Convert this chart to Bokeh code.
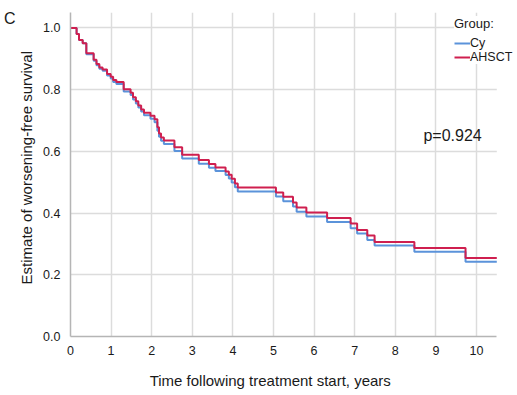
from bokeh.plotting import figure
from bokeh.models import (Legend, LegendItem, Label, Range1d, FixedTicker, NumeralTickFormatter,
                          LinearAxis, BoxAnnotation)
from bokeh.embed import file_html
from bokeh.resources import INLINE

# Event times (years) and Kaplan-Meier estimates
times = [0, 0.15, 0.21, 0.30, 0.39, 0.57, 0.64, 0.71, 0.79, 0.90, 0.99, 1.05, 1.13, 1.31,
         1.48, 1.54, 1.61, 1.67, 1.74, 1.81, 1.97, 2.07, 2.14, 2.18, 2.23, 2.30, 2.56, 2.75,
         3.16, 3.41, 3.57, 3.82, 3.90, 3.97, 4.05, 4.12, 5.06, 5.24, 5.48, 5.57, 5.81, 6.32,
         6.90, 7.06, 7.31, 7.49, 8.47, 9.73, 10.5]
ahsct = [1.0, 0.98, 0.961, 0.95, 0.918, 0.897, 0.883, 0.872, 0.865, 0.851, 0.842, 0.831,
         0.825, 0.801, 0.79, 0.775, 0.762, 0.749, 0.736, 0.725, 0.715, 0.704, 0.678, 0.658,
         0.645, 0.635, 0.613, 0.589, 0.572, 0.559, 0.548, 0.535, 0.524, 0.511, 0.496, 0.483,
         0.467, 0.453, 0.434, 0.418, 0.402, 0.384, 0.366, 0.345, 0.327, 0.306, 0.287, 0.254,
         0.254]
cy = [1.0, 0.98, 0.961, 0.95, 0.915, 0.894, 0.879, 0.868, 0.861, 0.846, 0.836, 0.825,
      0.818, 0.794, 0.783, 0.768, 0.755, 0.742, 0.729, 0.717, 0.706, 0.694, 0.667, 0.647,
      0.634, 0.624, 0.601, 0.577, 0.560, 0.547, 0.536, 0.523, 0.512, 0.499, 0.484, 0.470,
      0.454, 0.438, 0.421, 0.404, 0.389, 0.371, 0.351, 0.334, 0.313, 0.295, 0.275, 0.242,
      0.242]
x_ticks = [0, 1, 2, 3, 4, 5, 6, 7, 8, 9, 10]
y_ticks = [0.0, 0.2, 0.4, 0.6, 0.8, 1.0]
group_labels = ["Cy", "AHSCT"]
x_title = "Time following treatment start, years"
y_title = "Estimate of worsening-free survival"
p_value_text = "p=0.924"
panel_letter = "C"

FONT = "Liberation Sans"
BLUE = "#5b93da"
RED = "#cf1f4f"
TXT = "#1a1a1a"
X_END = 10.5          # end of the drawn axis
X_TITLE_POS = 4.92    # horizontal centre of the x title
Y_TITLE_POS = 0.547   # vertical centre of the y title
C_POS = 1.03          # vertical placement of the panel letter

p = figure(width=517, height=395, output_backend="svg", toolbar_location=None,
           x_range=Range1d(0, 11.01), y_range=Range1d(0, 1.05),
           min_border_left=70, min_border_right=0, min_border_top=12, min_border_bottom=59)
p.outline_line_color = None
p.background_fill_color = "white"
p.border_fill_color = "white"

p.xgrid.grid_line_color = "#dcdcdc"
p.ygrid.grid_line_color = "#dcdcdc"
p.xgrid.grid_line_width = 1.5
p.ygrid.grid_line_width = 1.5
# blank the gridlines beyond the end of the axis
p.add_layout(BoxAnnotation(left=X_END, fill_color="white", fill_alpha=1.0, line_color=None,
                           level="underlay"))

r_cy = p.step(times, cy, mode="after", line_color=BLUE, line_width=2)
r_ah = p.step(times, ahsct, mode="after", line_color=RED, line_width=2)


def style_axis(ax, size="12.5px"):
    ax.major_tick_line_color = None
    ax.minor_tick_line_color = None
    ax.major_tick_out = 0
    ax.major_tick_in = 0
    ax.minor_tick_out = 0
    ax.minor_tick_in = 0
    ax.major_label_text_font = FONT
    ax.major_label_text_font_size = size
    ax.major_label_text_color = TXT


xa = p.xaxis[0]
ya = p.yaxis[0]
for ax in (xa, ya):
    style_axis(ax)
    ax.axis_line_color = "#b5b5b5"
    ax.axis_line_width = 1.5
xa.ticker = FixedTicker(ticks=x_ticks)
ya.ticker = FixedTicker(ticks=y_ticks)
ya.formatter = NumeralTickFormatter(format="0.0")
xa.bounds = (0, X_END)
xa.major_label_standoff = 9
ya.major_label_standoff = 10

# axis titles and panel letter, placed as single labelled ticks on extra axes
x_lab = LinearAxis(ticker=FixedTicker(ticks=[X_TITLE_POS]),
                   major_label_overrides={X_TITLE_POS: x_title},
                   axis_line_color=None, major_label_standoff=14)
style_axis(x_lab, "15px")
p.add_layout(x_lab, "below")

y_lab = LinearAxis(ticker=FixedTicker(ticks=[Y_TITLE_POS]),
                   major_label_overrides={Y_TITLE_POS: y_title},
                   major_label_orientation="parallel",
                   axis_line_color=None, major_label_standoff=5)
style_axis(y_lab, "15px")
p.add_layout(y_lab, "left")

c_ax = LinearAxis(ticker=FixedTicker(ticks=[C_POS]), major_label_overrides={C_POS: panel_letter},
                  axis_line_color=None, major_label_standoff=0)
style_axis(c_ax, "16px")
p.add_layout(c_ax, "left")

legend = Legend(items=[LegendItem(label=group_labels[0], renderers=[r_cy]),
                       LegendItem(label=group_labels[1], renderers=[r_ah])],
                title="Group:", location=(384, 272))
legend.title_text_font = FONT
legend.title_text_font_size = "13px"
legend.title_text_font_style = "normal"
legend.title_text_color = TXT
legend.title_standoff = 5
legend.label_text_font = FONT
legend.label_text_font_size = "12.5px"
legend.label_text_color = TXT
legend.label_height = 14
legend.label_standoff = 0
legend.glyph_width = 16
legend.glyph_height = 12
legend.spacing = 0
legend.padding = 11
legend.margin = 0
legend.border_line_color = None
legend.background_fill_color = "white"
legend.background_fill_alpha = 1.0
p.add_layout(legend)

p.add_layout(Label(x=9.41, y=0.651, text=p_value_text, text_font=FONT, text_font_size="16px",
                   text_color=TXT, text_align="center", text_baseline="middle"))

open("out.html", "w").write(file_html(p, INLINE))
